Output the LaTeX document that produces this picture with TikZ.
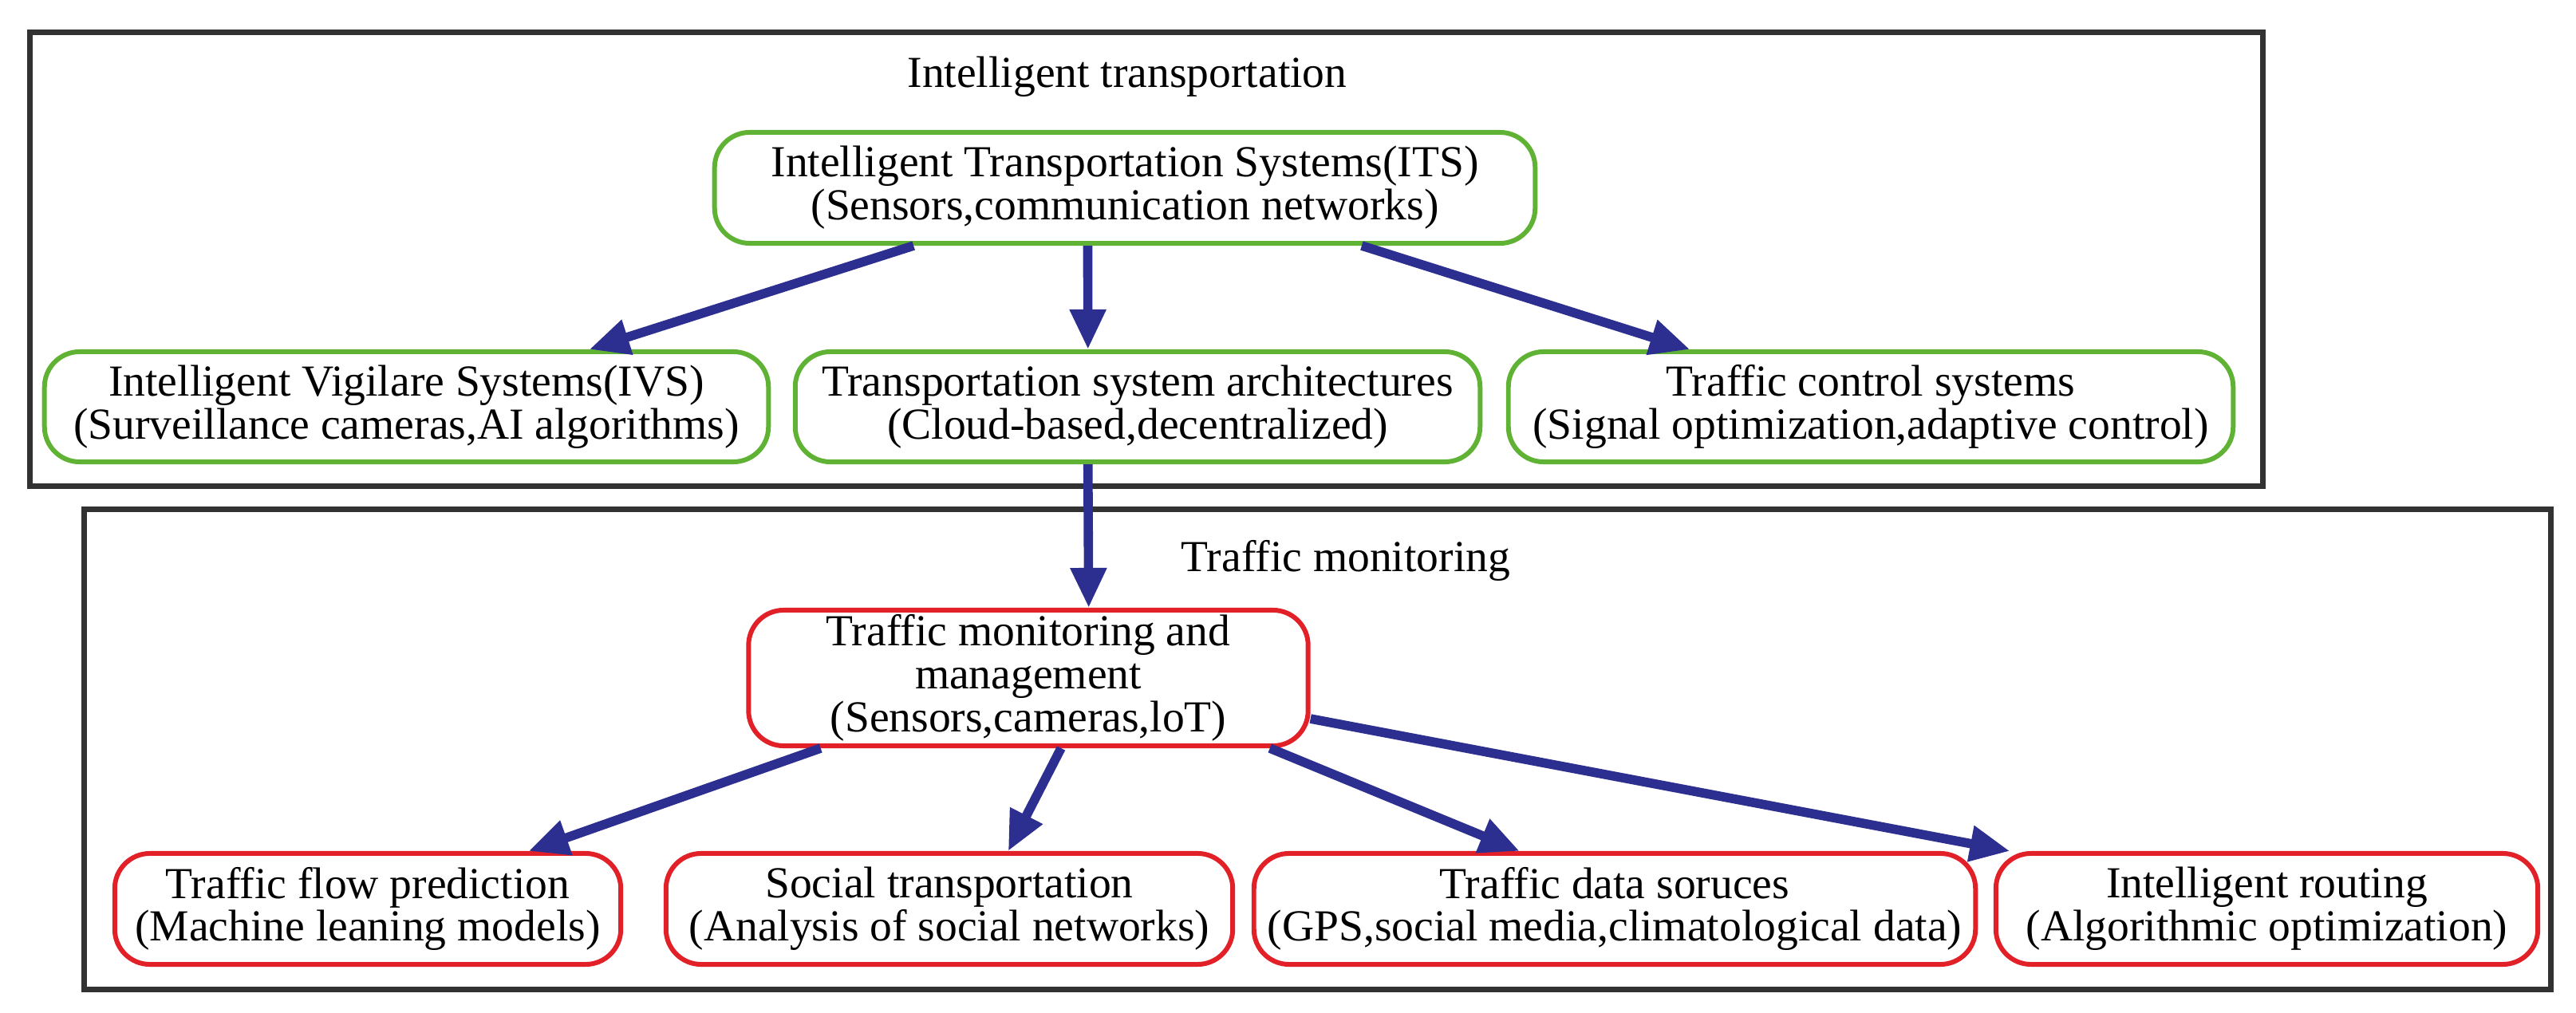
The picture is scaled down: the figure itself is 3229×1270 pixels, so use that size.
\documentclass[tikz,border=0pt]{standalone}
\usepackage{fontspec}
\setmainfont{Liberation Serif}
\usetikzlibrary{arrows.meta,calc}
\definecolor{boxgreen}{RGB}{96,178,52}
\definecolor{boxred}{RGB}{226,32,40}
\definecolor{arrblue}{RGB}{44,46,144}
\definecolor{framegray}{RGB}{50,50,50}
\begin{document}
\begin{tikzpicture}[x=0.01cm,y=-0.01cm,
  txt/.style={font=\fontsize{15.8pt}{15.3pt}\selectfont, align=center},
  gbox/.style={txt, draw=boxgreen, line width=1.7pt, rounded corners=0.44cm, minimum height=1.38cm, inner sep=0pt},
  rbox/.style={txt, draw=boxred, line width=1.7pt, rounded corners=0.44cm, minimum height=1.39cm, inner sep=0pt},
  frame/.style={draw=framegray, line width=2pt, inner sep=0pt},
  arr/.style={draw=arrblue, line width=3.3pt, -{Triangle[length=0.5cm,width=0.43cm]}}]
\path[use as bounding box] (0,0) rectangle (3229,1270);
% frames
\node[frame, minimum width=27.98cm, minimum height=5.68cm] (topframe) at (1437,325) {};
\node[frame, minimum width=30.91cm, minimum height=6.01cm] (botframe) at (1651.5,939.5) {};
% titles
\node[txt, anchor=base] (ttl1) at (1413,110) {Intelligent transportation};
\node[txt, anchor=base] (ttl2) at (1687,717) {Traffic monitoring};
% top nodes
\node[gbox, minimum width=10.28cm, minimum height=1.39cm] (its) at (1410,235.5) {Intelligent Transportation Systems(ITS)\\(Sensors,communication networks)};
\node[gbox, minimum width=9.07cm] (ivs) at (509.5,510) {Intelligent Vigilare Systems(IVS)\\(Surveillance cameras,AI algorithms)};
\node[gbox, minimum width=8.58cm] (tsa) at (1426,510) {Transportation system architectures\\(Cloud-based,decentralized)};
\node[gbox, minimum width=9.08cm] (tcs) at (2345,510) {Traffic control systems\\(Signal optimization,adaptive control)};
% bottom nodes
\node[rbox, minimum width=7.01cm, minimum height=1.70cm] (tmm) at (1289,850) {Traffic monitoring and\\management\\(Sensors,cameras,loT)};
\node[rbox, minimum width=6.34cm] (tfp) at (461,1139.5) {Traffic flow prediction\\(Machine leaning models)};
\node[rbox, minimum width=7.10cm] (st) at (1190,1139.5) {Social transportation\\(Analysis of social networks)};
\node[rbox, minimum width=9.04cm] (tds) at (2024,1139.5) {Traffic data soruces\\(GPS,social media,climatological data)};
\node[rbox, minimum width=6.79cm] (ir) at (2841.5,1139.5) {Intelligent routing\\(Algorithmic optimization)};
% arrows
\draw[arr] ($(its.south west)!0.244!(its.south east)$) -- ($(ivs.north west)!0.751!(ivs.north east)$);
\draw[arr] ($(its.south west)!0.455!(its.south east)$) -- ($(tsa.north west)!0.428!(tsa.north east)$);
\draw[arr] ($(its.south west)!0.787!(its.south east)$) -- ($(tcs.north west)!0.252!(tcs.north east)$);
\draw[arr] ($(tsa.south west)!0.428!(tsa.south east)$) -- ($(tmm.north west)!0.607!(tmm.north east)$);
\draw[arr] ($(tmm.south west)!0.132!(tmm.south east)$) -- ($(tfp.north west)!0.815!(tfp.north east)$);
\draw[arr] ($(tmm.south west)!0.558!(tmm.south east)$) -- ($(st.north west)!0.603!(st.north east)$);
\draw[arr] ($(tmm.south west)!0.928!(tmm.south east)$) -- ($(tds.north west)!0.369!(tds.north east)$);
\draw[arr] ($(tmm.north east)!0.79!(tmm.south east)$) -- ($(ir.north west)!0.03!(ir.north east)$);
\end{tikzpicture}
\end{document}
